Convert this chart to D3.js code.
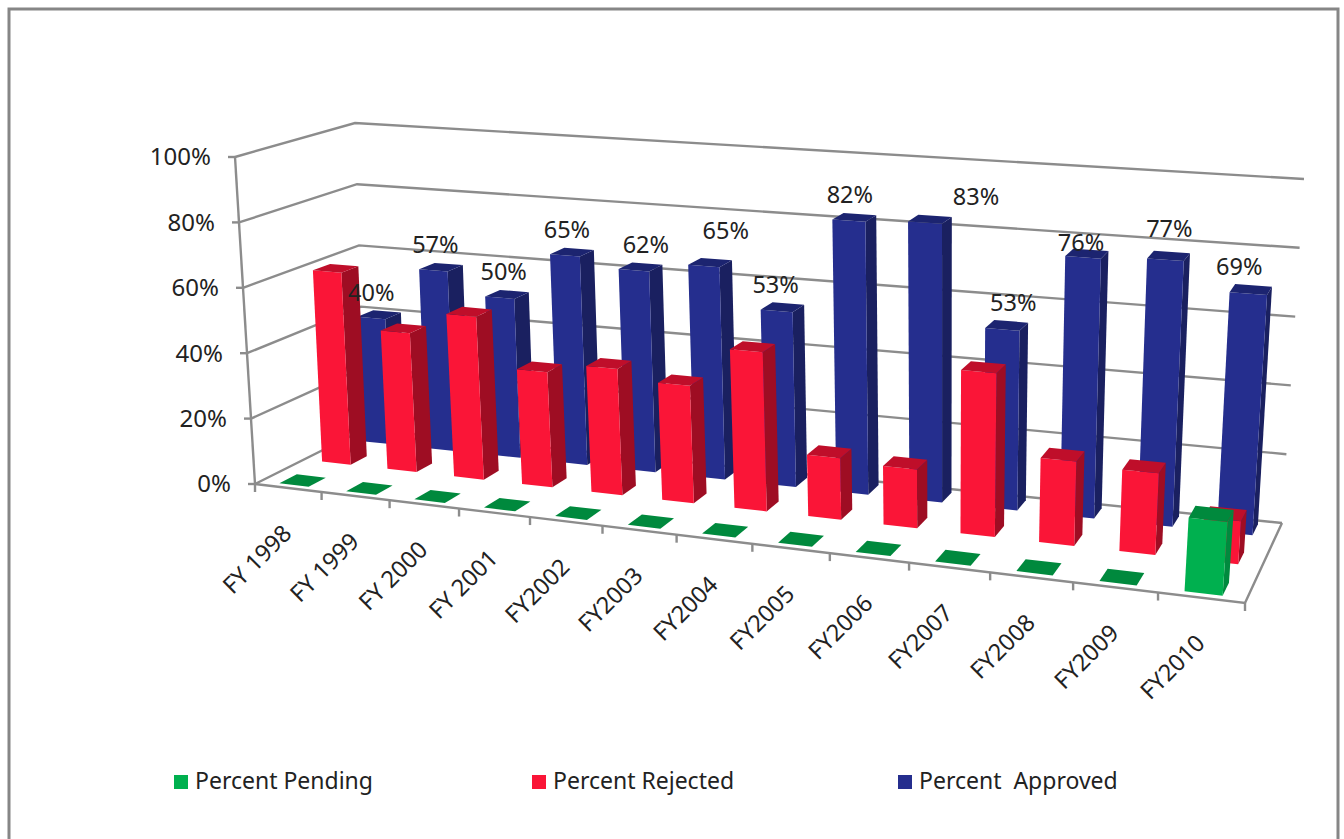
<!DOCTYPE html>
<html>
<head>
<meta charset="utf-8">
<script src="https://cdn.jsdelivr.net/npm/d3@7"></script>
<style>
  body { margin: 0; background: #fff; }
  text { font-family: "Noto Sans", sans-serif; fill: #222; white-space: pre; }
</style>
</head>
<body>
<div id="container"></div>
<script>
// 数据
const categories = ["FY 1998", "FY 1999", "FY 2000", "FY 2001", "FY2002", "FY2003", "FY2004", "FY2005", "FY2006", "FY2007", "FY2008", "FY2009", "FY2010"];
const seriesNames = ["Percent Pending", "Percent Rejected", "Percent  Approved"];
const pending = [0, 0, 0, 0, 0, 0, 0, 0, 0, 0, 0, 0, 20];
const rejected = [60, 43, 50, 35, 38, 35, 47, 18, 17, 47, 24, 23, 12];
const approved = [40, 57, 50, 65, 62, 65, 53, 82, 83, 53, 76, 77, 69];
const yTicks = [0, 20, 40, 60, 80, 100];

// 手动挪过的数据标签（相对柱顶的偏移）
const labelDx = [0, 2, 4, 2, 12, 22, -1, 1, 51, 11, -2, 4, -9];
const labelDy = [0, 0, 0, 0, 0, -9, 0, 0, 0, 0, 12, -4, 0];

const width = 1344;
const height = 839;
const gridColor = "#8c8c8c";

const colors = [
  { front: "#00b04f", side: "#008a3e", top: "#00893d" },
  { front: "#fa1537", side: "#9e0d23", top: "#bf0e2a" },
  { front: "#252e8e", side: "#1a2060", top: "#1c2470" }
];

// 单位正方形 -> 四边形的透视变换，corners 顺序：前左、前右、后右、后左
function quadMap([p0, p1, p2, p3]) {
  const dx1 = p1[0] - p2[0], dx2 = p3[0] - p2[0], sx = p0[0] - p1[0] + p2[0] - p3[0];
  const dy1 = p1[1] - p2[1], dy2 = p3[1] - p2[1], sy = p0[1] - p1[1] + p2[1] - p3[1];
  const den = dx1 * dy2 - dx2 * dy1;
  const g = (sx * dy2 - dx2 * sy) / den;
  const h = (dx1 * sy - sx * dy1) / den;
  const a = p1[0] - p0[0] + g * p1[0], b = p3[0] - p0[0] + h * p3[0];
  const d = p1[1] - p0[1] + g * p1[1], e = p3[1] - p0[1] + h * p3[1];
  return (u, v) => {
    const w = g * u + h * v + 1;
    return [(a * u + b * v + p0[0]) / w, (d * u + e * v + p0[1]) / w];
  };
}

const floorMap = quadMap([[255, 484], [1245, 603], [1282, 523], [365, 429]]);
const ceilMap = quadMap([[235, 157], [1272, 232], [1304, 179], [355, 123]]);

const zScale = d3.scaleLinear().domain([0, 100]).range([0, 1]);
const xBand = d3.scaleBand().domain(categories).range([0, 1]).paddingInner(0.56).paddingOuter(0.28);
const depthBand = d3.scaleBand().domain(seriesNames).range([0.05, 0.95]).paddingInner(0.6).paddingOuter(0);

// 横向透视太强，这里把 u 修正一下，让刻度间距接近原图
const warpK = 0.914;
const warp = (u) => u / (u + warpK * (1 - u));

// (横向 u, 纵深 v, 数值) -> 屏幕坐标
function project(u, v, value) {
  const t = zScale(value);
  const a = floorMap(warp(u), v), b = ceilMap(warp(u), v);
  return [d3.interpolateNumber(a[0], b[0])(t), d3.interpolateNumber(a[1], b[1])(t)];
}

const svg = d3.select("#container").append("svg")
  .attr("width", width).attr("height", height).attr("viewBox", [0, 0, width, height])
  .style("display", "block");

// 外框（底边在画面之外）
svg.append("path")
  .attr("d", `M9,${height + 5}V9H1338V${height + 5}`)
  .attr("fill", "none").attr("stroke", "#868686").attr("stroke-width", 3);

const line = d3.line();

// 网格线：左墙 + 后墙
const grid = svg.append("g").attr("fill", "none").attr("stroke", gridColor).attr("stroke-width", 2.4);
grid.selectAll("path.wall").data(yTicks).join("path").attr("class", "wall")
  .attr("d", (t) => line([project(0, 0, t), project(0, 1, t), project(1, 1, t)]));
// 地板的前沿和右沿
grid.append("path").attr("d", line([project(0, 0, 0), project(1, 0, 0), project(1, 1, 0)]));
// 纵轴
grid.append("path").attr("d", line([project(0, 0, 0), project(0, 0, 100)]));
// 纵轴刻度
grid.selectAll("path.ytick").data(yTicks).join("path").attr("class", "ytick")
  .attr("d", (t) => { const p = project(0, 0, t); return line([[p[0] - 7, p[1]], p]); });
// 横轴刻度
grid.selectAll("path.xtick").data(d3.range(categories.length + 1)).join("path").attr("class", "xtick")
  .attr("d", (i) => { const p = project(i / categories.length, 0, 0); return line([p, [p[0], p[1] + 8]]); });

svg.append("g").selectAll("text").data(yTicks).join("text")
  .attr("x", (t) => project(0, 0, t)[0] - 24)
  .attr("y", (t) => project(0, 0, t)[1])
  .attr("dy", "0.35em")
  .attr("text-anchor", "end")
  .attr("font-size", 24)
  .text((t) => t + "%");

// 柱子：从后往前画（蓝、红、绿）
const seriesValues = [pending, rejected, approved];
function drawBar(g, category, value, seriesIndex) {
  const u0 = xBand(category), u1 = u0 + xBand.bandwidth();
  const v0 = depthBand(seriesNames[seriesIndex]), v1 = v0 + depthBand.bandwidth();
  const c = colors[seriesIndex];
  const poly = (pts, fill) => g.append("polygon").attr("points", pts.join(" ")).attr("fill", fill);
  poly([project(u1, v0, 0), project(u1, v1, 0), project(u1, v1, value), project(u1, v0, value)], c.side);
  poly([project(u0, v0, 0), project(u1, v0, 0), project(u1, v0, value), project(u0, v0, value)], c.front);
  poly([project(u0, v0, value), project(u1, v0, value), project(u1, v1, value), project(u0, v1, value)], c.top);
}
const bars = svg.append("g");
[2, 1, 0].forEach((s) => {
  const g = bars.append("g");
  categories.forEach((cat, i) => drawBar(g, cat, seriesValues[s][i], s));
});

// 蓝柱的数据标签
svg.append("g").selectAll("text").data(approved).join("text")
  .attr("x", (d, i) => {
    const cat = categories[i];
    return project(xBand(cat) + xBand.bandwidth() / 2, depthBand(seriesNames[2]), d)[0] + labelDx[i];
  })
  .attr("y", (d, i) => {
    const cat = categories[i];
    return project(xBand(cat) + xBand.bandwidth() / 2, depthBand(seriesNames[2]) + depthBand.bandwidth(), d)[1] - 19 + labelDy[i];
  })
  .attr("dy", "0.35em")
  .attr("text-anchor", "middle")
  .attr("font-size", 23.5)
  .text((d) => d + "%");

// 横轴标签，旋转 45 度
svg.append("g").selectAll("text").data(categories).join("text")
  .attr("transform", (cat) => {
    const p = project(xBand(cat) + xBand.bandwidth() / 2, 0, 0);
    return `translate(${p[0] + 5},${p[1] + 47}) rotate(-45)`;
  })
  .attr("text-anchor", "end")
  .attr("font-size", 23.5)
  .text((d) => d);

// 图例
const legendX = [174, 532, 898];
const legend = svg.append("g").selectAll("g").data(seriesNames).join("g")
  .attr("transform", (d, i) => `translate(${legendX[i]},775)`);
legend.append("rect").attr("width", 14).attr("height", 14).attr("fill", (d, i) => colors[i].front);
legend.append("text").attr("x", 21).attr("y", 6).attr("dy", "0.35em").attr("font-size", 23).text((d) => d);
</script>
</body>
</html>
